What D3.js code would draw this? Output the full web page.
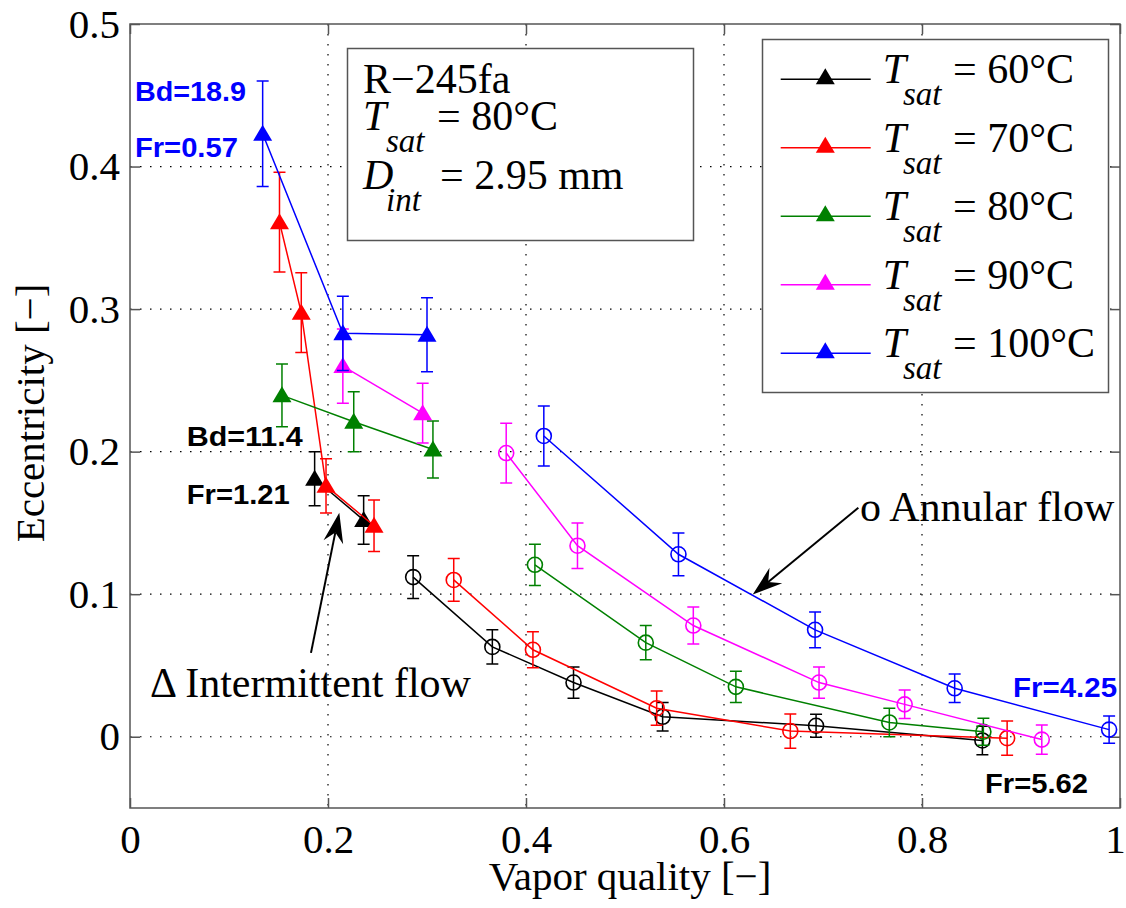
<!DOCTYPE html>
<html>
<head>
<meta charset="utf-8">
<script src="https://cdn.jsdelivr.net/npm/d3@7"></script>
<style>
  body { margin: 0; background: #fff; }
  svg  { display: block; }
</style>
</head>
<body>
<svg id="chart" width="1126" height="908"></svg>
<script>
// ── data: [vapor quality, eccentricity, error] ─────────────────────────────
const xTicks = [0, 0.2, 0.4, 0.6, 0.8, 1];
const yTicks = [0, 0.1, 0.2, 0.3, 0.4, 0.5];
const tempLabels = ["60°C", "70°C", "80°C", "90°C", "100°C"];

// intermittent flow (filled triangles)
const inter60  = [[0.1865, 0.181, 0.019], [0.236, 0.152, 0.017]];
const inter70  = [[0.151, 0.361, 0.035], [0.173, 0.2975, 0.028], [0.198, 0.176, 0.019], [0.2465, 0.148, 0.018]];
const inter80  = [[0.1535, 0.2395, 0.022], [0.226, 0.221, 0.021], [0.306, 0.2015, 0.020]];
const inter90  = [[0.215, 0.260, 0.026], [0.2956, 0.227, 0.021]];
const inter100 = [[0.134, 0.423, 0.037], [0.215, 0.283, 0.026], [0.300, 0.282, 0.026]];

// annular flow (open circles)
const annular60  = [[0.286, 0.112, 0.015], [0.366, 0.063, 0.012], [0.448, 0.038, 0.011], [0.538, 0.014, 0.010], [0.693, 0.0077, 0.008], [0.861, -0.0026, 0.010]];
const annular70  = [[0.327, 0.110, 0.015], [0.407, 0.061, 0.0126], [0.532, 0.020, 0.012], [0.667, 0.004, 0.012], [0.886, -0.001, 0.012]];
const annular80  = [[0.409, 0.1206, 0.0145], [0.521, 0.066, 0.012], [0.612, 0.035, 0.011], [0.767, 0.010, 0.010], [0.862, 0.0035, 0.0094]];
const annular90  = [[0.380, 0.199, 0.021], [0.452, 0.134, 0.016], [0.569, 0.078, 0.013], [0.696, 0.038, 0.011], [0.7825, 0.0227, 0.010], [0.921, -0.002, 0.0103]];
const annular100 = [[0.418, 0.211, 0.021], [0.554, 0.128, 0.015], [0.692, 0.075, 0.0125], [0.833, 0.034, 0.010], [0.989, 0.005, 0.0095]];

const colors = ["#000000", "#ff0000", "#008000", "#ff00ff", "#0000ff"];
const interSets   = [inter60, inter70, inter80, inter90, inter100];
const annularSets = [annular60, annular70, annular80, annular90, annular100];

const SERIF = "'Liberation Serif', 'Times New Roman', serif";
const SANS  = "'Liberation Sans', Arial, sans-serif";
const AXIS  = "#555";

const svg = d3.select("#chart");
const L = 130, R = 1120, T = 24, B = 808;

const x = d3.scaleLinear().domain([0, 1]).range([L, R]);
const y = d3.scaleLinear().domain([-0.05, 0.5]).range([B, T]);

// ── grid ───────────────────────────────────────────────────────────────────
const grid = svg.append("g").attr("stroke", "#000").attr("stroke-width", 1.2)
  .attr("stroke-dasharray", "1.5,8.5");
xTicks.filter(d => d > 0 && d < 1).forEach(d => {
  grid.append("line").attr("x1", x(d)).attr("x2", x(d)).attr("y1", T).attr("y2", B);
});
yTicks.filter(d => d < 0.5).forEach(d => {
  grid.append("line").attr("x1", L).attr("x2", R).attr("y1", y(d)).attr("y2", y(d));
});

// ── axes (box with inward ticks) ───────────────────────────────────────────
const xAxisB = d3.axisBottom(x).tickValues(xTicks).tickSize(-10).tickPadding(18).tickFormat(d3.format("~g"));
const xAxisT = d3.axisTop(x).tickValues(xTicks).tickSize(-10).tickFormat("");
const yAxisL = d3.axisLeft(y).tickValues(yTicks).tickSize(-10).tickPadding(10).tickFormat(d3.format("~g"));
const yAxisR = d3.axisRight(y).tickValues(yTicks).tickSize(-10).tickFormat("");

function styleAxis(g) {
  g.selectAll(".domain").attr("stroke", AXIS).attr("stroke-width", 1.5);
  g.selectAll(".tick line").attr("stroke", AXIS).attr("stroke-width", 1.5);
  g.selectAll("text").attr("font-family", SERIF).attr("font-size", 41).attr("fill", "#000");
}
const gxB = svg.append("g").attr("transform", `translate(0,${B})`).call(xAxisB).call(styleAxis);
gxB.selectAll("text").attr("dy", "0.66em");
gxB.selectAll("text").filter(d => d === 1).attr("dx", -5);
svg.append("g").attr("transform", `translate(0,${T})`).call(xAxisT).call(styleAxis);
svg.append("g").attr("transform", `translate(${L},0)`).call(yAxisL).call(styleAxis);
svg.append("g").attr("transform", `translate(${R},0)`).call(yAxisR).call(styleAxis);
svg.selectAll(".domain").attr("d", null);
svg.append("rect").attr("x", L).attr("y", T).attr("width", R - L).attr("height", B - T)
  .attr("fill", "none").attr("stroke", AXIS).attr("stroke-width", 1.5);

// axis titles
svg.append("text").attr("x", 630).attr("y", 890).attr("text-anchor", "middle")
  .attr("font-family", SERIF).attr("font-size", 41).text("Vapor quality [−]");
svg.append("text").attr("transform", "translate(44,413) rotate(-90)").attr("text-anchor", "middle")
  .attr("font-family", SERIF).attr("font-size", 41).text("Eccentricity [−]");

// ── series ─────────────────────────────────────────────────────────────────
const triPath = "M0,-9L9.5,7L-9.5,7Z";
const line = d3.line().x(d => x(d[0])).y(d => y(d[1]));

function drawErr(g, data, color) {
  data.forEach(d => {
    const y1 = y(d[1] - d[2]), y2 = y(d[1] + d[2]), cx = x(d[0]);
    g.append("path")
      .attr("d", `M${cx},${y1}V${y2}M${cx - 6},${y1}H${cx + 6}M${cx - 6},${y2}H${cx + 6}`)
      .attr("stroke", color).attr("stroke-width", 1.5).attr("fill", "none");
  });
}

colors.forEach((c, i) => {
  const g = svg.append("g");
  const tri = interSets[i], circ = annularSets[i];

  g.append("path").datum(tri).attr("d", line).attr("fill", "none").attr("stroke", c).attr("stroke-width", 1.5);
  drawErr(g, tri, c);
  g.selectAll(".tri").data(tri).enter().append("path")
    .attr("d", triPath).attr("fill", c)
    .attr("transform", d => `translate(${x(d[0])},${y(d[1])})`);

  g.append("path").datum(circ).attr("d", line).attr("fill", "none").attr("stroke", c).attr("stroke-width", 1.5);
  drawErr(g, circ, c);
  g.selectAll(".circ").data(circ).enter().append("circle")
    .attr("cx", d => x(d[0])).attr("cy", d => y(d[1])).attr("r", 7.5)
    .attr("fill", "none").attr("stroke", c).attr("stroke-width", 1.6);
});

// ── annotations ────────────────────────────────────────────────────────────
const notes = [
  { t: "Bd=18.9", x: 0.005,  y: 0.446,   c: "#0000ff", w: 111 },
  { t: "Fr=0.57", x: 0.005,  y: 0.4066,  c: "#0000ff", w: 103 },
  { t: "Bd=11.4", x: 0.0573, y: 0.2039,  c: "#000",    w: 116 },
  { t: "Fr=1.21", x: 0.0573, y: 0.163,   c: "#000",    w: 103 },
  { t: "Fr=4.25", x: 0.892,  y: 0.0279,  c: "#0000ff", w: 104 },
  { t: "Fr=5.62", x: 0.8636, y: -0.0393, c: "#000",    w: 103 },
];
notes.forEach(n => {
  svg.append("text").attr("x", x(n.x)).attr("y", y(n.y))
    .attr("font-family", SANS).attr("font-weight", "bold").attr("font-size", 28)
    .attr("fill", n.c).attr("textLength", n.w).attr("lengthAdjust", "spacingAndGlyphs")
    .text(n.t);
});

svg.append("text").attr("x", x(0.0202)).attr("y", y(0.0281))
  .attr("font-family", SERIF).attr("font-size", 42).text("Δ Intermittent flow");
svg.append("text").attr("x", x(0.7374)).attr("y", y(0.1512))
  .attr("font-family", SERIF).attr("font-size", 42).text("o Annular flow");

function arrow(x0, y0, x1, y1) {
  const ax = x(x0), ay = y(y0), bx = x(x1), by = y(y1);
  const ang = Math.atan2(by - ay, bx - ax);
  const len = 30, hw = 10, notch = 20;
  const cos = Math.cos(ang), sin = Math.sin(ang);
  const pt = (back, side) => [bx - back * cos - side * sin, by - back * sin + side * cos];
  svg.append("line").attr("x1", ax).attr("y1", ay)
    .attr("x2", pt(notch, 0)[0]).attr("y2", pt(notch, 0)[1])
    .attr("stroke", "#000").attr("stroke-width", 2);
  const p = [[bx, by], pt(len, hw), pt(notch, 0), pt(len, -hw)];
  svg.append("path").attr("d", "M" + p.map(q => q.join(",")).join("L") + "Z").attr("fill", "#000");
}
arrow(0.7357, 0.1606, 0.629, 0.0997);
arrow(0.1828, 0.0588, 0.2114, 0.1571);

// ── info box ───────────────────────────────────────────────────────────────
const info = svg.append("g");
info.append("rect").attr("x", 347.5).attr("y", 48.5).attr("width", 346).attr("height", 192)
  .attr("fill", "#fff").attr("stroke", AXIS).attr("stroke-width", 1.5);
function sub(g, x0, yb, main, subTxt, rest, restDx) {
  g.append("text").attr("x", x0).attr("y", yb).attr("font-family", SERIF).attr("font-size", 42)
    .attr("font-style", "italic").text(main);
  g.append("text").attr("x", x0 + 23).attr("y", yb + 21.5).attr("font-family", SERIF).attr("font-size", 33)
    .attr("font-style", "italic").text(subTxt);
  g.append("text").attr("x", x0 + restDx).attr("y", yb).attr("font-family", SERIF).attr("font-size", 42).text(rest);
}
info.append("text").attr("x", 363).attr("y", 92.7).attr("font-family", SERIF).attr("font-size", 42).text("R−245fa");
sub(info, 363, 130, "T", "sat", "= 80°C", 74);
sub(info, 363, 189, "D", "int", "= 2.95 mm", 77);

// ── legend ─────────────────────────────────────────────────────────────────
const leg = svg.append("g");
leg.append("rect").attr("x", 762.5).attr("y", 39.5).attr("width", 346).attr("height", 353)
  .attr("fill", "#fff").attr("stroke", AXIS).attr("stroke-width", 1.5);
tempLabels.forEach((lab, i) => {
  const ry = 79.3 + i * 68.5;
  leg.append("line").attr("x1", 780.7).attr("x2", 870.7).attr("y1", ry).attr("y2", ry)
    .attr("stroke", colors[i]).attr("stroke-width", 1.5);
  leg.append("path").attr("d", triPath).attr("fill", colors[i])
    .attr("transform", `translate(825.3,${ry - 2})`);
  leg.append("text").attr("x", 882.7).attr("y", ry + 4).attr("font-family", SERIF).attr("font-size", 42)
    .attr("font-style", "italic").text("T");
  leg.append("text").attr("x", 903).attr("y", ry + 25.7).attr("font-family", SERIF).attr("font-size", 33)
    .attr("font-style", "italic").text("sat");
  leg.append("text").attr("x", 953).attr("y", ry + 4).attr("font-family", SERIF).attr("font-size", 42)
    .text("= " + lab);
});
</script>
</body>
</html>
